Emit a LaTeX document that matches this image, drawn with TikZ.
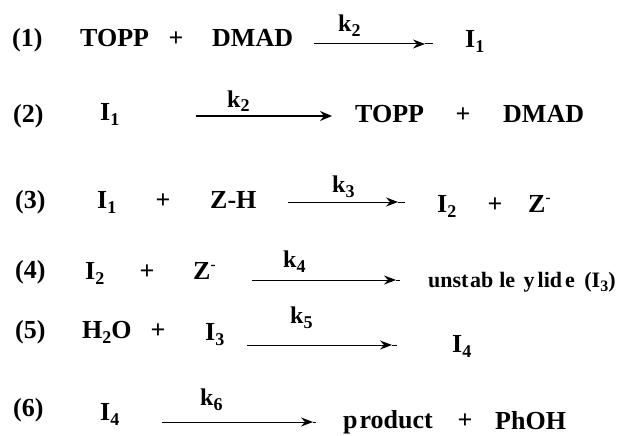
\documentclass[tikz,border=0pt]{standalone}
\usepackage{fontspec}
\setmainfont{Liberation Serif}
\usetikzlibrary{arrows.meta}
\newcommand{\sbs}[1]{\raisebox{-5pt}{\fontsize{18}{18}\selectfont #1}}
\newcommand{\sps}[1]{\raisebox{10pt}{\fontsize{15}{15}\selectfont #1}}
\tikzset{
  txt/.style={font=\fontsize{26}{30}\selectfont\bfseries, inner sep=0pt, anchor=base west},
  plus/.style={font=\fontsize{26}{30}\selectfont\bfseries, inner sep=0pt, anchor=base},
  klab/.style={font=\fontsize{24}{28}\selectfont\bfseries, inner sep=0pt, anchor=base west},
  small/.style={font=\fontsize{22}{24}\selectfont\bfseries, inner sep=0pt, anchor=base west},
  rxn/.style={line width=1pt, -{Stealth[length=12pt,width=9pt,inset=4pt]}},
  rxnline/.style={line width=1pt},
  rxnthick/.style={line width=2.6pt, -{Stealth[length=12pt,width=10pt,inset=4pt]}}
}
\begin{document}
\begin{tikzpicture}[x=1pt,y=-1pt]
\useasboundingbox (0,0) rectangle (630,436);
% Row 1
\node[txt] (n1) at (12,47) {(1)};
\node[txt] (r1a) at (80,47) {TOPP};
\node[plus] (r1p) at (176,47) {+};
\node[txt] (r1b) at (212,47) {DMAD};
\coordinate (a1s) at (314,44);
\coordinate (a1h) at (425,44);
\coordinate (a1e) at (433,44);
\draw[rxn] (a1s) -- (a1h);
\draw[rxnline] (a1h) -- (a1e);
\node[klab] (k1) at (338,32) {k\sbs{2}};
\node[txt] (r1c) at (465,48) {I\sbs{1}};
% Row 2
\node[txt] (n2) at (13,122) {(2)};
\node[txt] (r2a) at (100,121) {I\sbs{1}};
\coordinate (a2s) at (196,116);
\coordinate (a2e) at (332,116);
\draw[rxnthick] (a2s) -- (a2e);
\node[klab] (k2) at (227,107) {k\sbs{2}};
\node[txt] (r2b) at (355,122) {TOPP};
\node[plus] (r2p) at (463,122) {+};
\node[txt] (r2c) at (503,122) {DMAD};
% Row 3
\node[txt] (n3) at (15,208) {(3)};
\node[txt] (r3a) at (97,208) {I\sbs{1}};
\node[plus] (r3p) at (163,208) {+};
\node[txt] (r3b) at (210,208) {Z-H};
\coordinate (a3s) at (288,202);
\coordinate (a3h) at (398,202);
\coordinate (a3e) at (405,202);
\draw[rxn] (a3s) -- (a3h);
\draw[rxnline] (a3h) -- (a3e);
\node[klab] (k3) at (332,193) {k\sbs{3}};
\node[txt] (r3c) at (437,212) {I\sbs{2}};
\node[plus] (r3q) at (495,212) {+};
\node[txt] (r3d) at (528,212) {Z\sps{-}};
% Row 4
\node[txt] (n4) at (15,278) {(4)};
\node[txt] (r4a) at (85,279) {I\sbs{2}};
\node[plus] (r4p) at (147,279) {+};
\node[txt] (r4b) at (193,279) {Z\sps{-}};
\coordinate (a4s) at (252,280);
\coordinate (a4h) at (396,280);
\coordinate (a4e) at (400,280);
\draw[rxn] (a4s) -- (a4h);
\draw[rxnline] (a4h) -- (a4e);
\node[klab] (k4) at (283,267) {k\sbs{4}};
\node[small] (r4c) at (428,287) {unst\kern1.5pt ab\kern6pt le\kern3pt{} y\kern3pt lid\kern3pt e\kern4pt{} (I\raisebox{-4pt}{\fontsize{16}{16}\selectfont 3})};
% Row 5
\node[txt] (n5) at (15,338) {(5)};
\node[txt] (r5a) at (82,338) {H\sbs{2}O};
\node[plus] (r5p) at (158,338) {+};
\node[txt] (r5b) at (205,340) {I\sbs{3}};
\coordinate (a5s) at (247,345);
\coordinate (a5h) at (392,345);
\coordinate (a5e) at (397,345);
\draw[rxn] (a5s) -- (a5h);
\draw[rxnline] (a5h) -- (a5e);
\node[klab] (k5) at (290,323) {k\sbs{5}};
\node[txt] (r5c) at (452,352) {I\sbs{4}};
% Row 6
\node[txt] (n6) at (13,416) {(6)};
\node[txt] (r6a) at (100,420) {I\sbs{4}};
\coordinate (a6s) at (162,422);
\coordinate (a6h) at (313,422);
\coordinate (a6e) at (316,422);
\draw[rxn] (a6s) -- (a6h);
\draw[rxnline] (a6h) -- (a6e);
\node[klab] (k6) at (200,405) {k\sbs{6}};
\node[txt] (r6b) at (343,428) {p\kern2pt roduct};
\node[plus] (r6p) at (465,428) {+};
\node[txt] (r6c) at (495,429) {PhOH};
\end{tikzpicture}
\end{document}
